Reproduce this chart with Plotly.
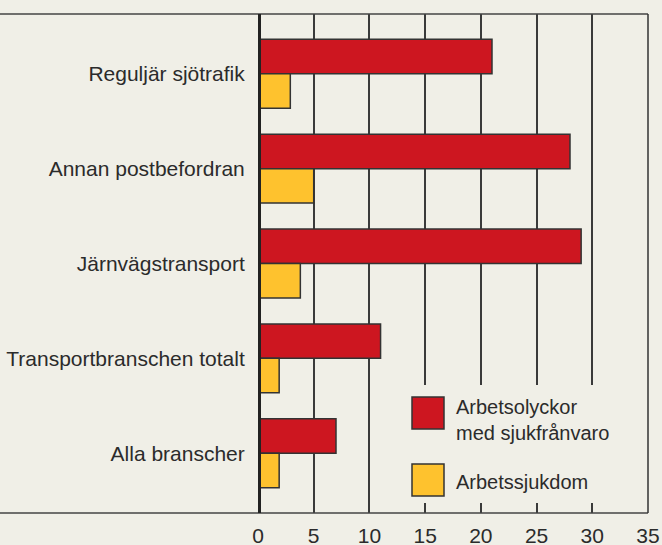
import plotly.graph_objects as go

categories = ["Reguljär sjötrafik", "Annan postbefordran", "Järnvägstransport",
              "Transportbranschen totalt", "Alla branscher"]
olyckor = [21, 28, 29, 11, 7]
sjukdom = [2.9, 5, 3.8, 1.9, 1.9]
x_ticks = [0, 5, 10, 15, 20, 25, 30, 35]
legend_names = ["Arbetsolyckor<br>med sjukfrånvaro", "Arbetssjukdom"]

BG = "#f0efe7"
RED = "#cd1620"
YEL = "#fec22e"
EDGE = "#333333"
TXT = "#2b2b2b"
FONT = "Liberation Sans, Arial, sans-serif"

W, H = 662, 545
L, R, T, B = 258, 14, 14, 32
PW, PH = W - L - R, H - T - B


def px_x(px):
    return (px - L) / PW


def px_y(py):
    return (H - B - py) / PH


fig = go.Figure()
fig.add_trace(go.Bar(y=categories, x=olyckor, orientation="h", name="o",
                     marker=dict(color=RED, line=dict(color=EDGE, width=1.5))))
fig.add_trace(go.Bar(y=categories, x=sjukdom, orientation="h", name="s",
                     marker=dict(color=YEL, line=dict(color=EDGE, width=1.5))))

shapes = []
# legend background box (hides gridlines)
shapes.append(dict(type="rect", xref="paper", yref="paper",
                   x0=px_x(400), x1=px_x(646.5), y0=px_y(503), y1=px_y(385),
                   fillcolor=BG, line=dict(width=0), layer="above"))
# frame lines
shapes.append(dict(type="line", xref="paper", yref="paper", x0=px_x(0), x1=1,
                   y0=1, y1=1, line=dict(color="#444444", width=1.5), layer="above"))
shapes.append(dict(type="line", xref="paper", yref="paper", x0=px_x(0), x1=1,
                   y0=0, y1=0, line=dict(color="#444444", width=1.5), layer="above"))
shapes.append(dict(type="line", xref="paper", yref="paper", x0=1, x1=1,
                   y0=0, y1=1, line=dict(color="#333333", width=1.5), layer="above"))
# thick zero axis
shapes.append(dict(type="line", xref="x", yref="paper", x0=0, x1=0,
                   y0=0, y1=1, line=dict(color="#222222", width=6), layer="above"))
# legend swatches
for (top, bot), col in zip([(397, 429), (464, 496)], [RED, YEL]):
    shapes.append(dict(type="rect", xref="paper", yref="paper",
                       x0=px_x(412), x1=px_x(444), y0=px_y(bot), y1=px_y(top),
                       fillcolor=col, line=dict(color=EDGE, width=1.5), layer="above"))

annotations = []
for name, cy in zip(legend_names, [420, 482]):
    annotations.append(dict(xref="paper", yref="paper", x=px_x(454), y=px_y(cy),
                            xanchor="left", yanchor="middle", text=name, showarrow=False,
                            align="left", font=dict(family=FONT, size=20, color=TXT)))

fig.update_layout(
    width=W, height=H,
    margin=dict(l=L, r=R, t=T, b=B, pad=0),
    paper_bgcolor=BG, plot_bgcolor=BG,
    barmode="group", bargap=0.273, bargroupgap=0,
    showlegend=False,
    font=dict(family=FONT, size=21, color=TXT),
    shapes=shapes, annotations=annotations,
    xaxis=dict(range=[0, 35], tickvals=x_ticks, showgrid=True, gridcolor="#3a3a3a",
               gridwidth=1.5, zeroline=False, showline=False, ticks="outside",
               ticklen=4, tickcolor="rgba(0,0,0,0)", automargin=False,
               tickfont=dict(family=FONT, size=21, color=TXT), fixedrange=True),
    yaxis=dict(type="category", categoryorder="array", categoryarray=categories,
               range=[4.63, -0.63], showgrid=False, zeroline=False, showline=False,
               ticks="outside", ticklen=8, tickcolor="rgba(0,0,0,0)", automargin=False,
               tickfont=dict(family=FONT, size=21, color=TXT), fixedrange=True),
)

fig.write_html("out.html", config={"displayModeBar": False},
               post_script="document.body.style.margin='0';document.body.style.background='%s';" % BG)
